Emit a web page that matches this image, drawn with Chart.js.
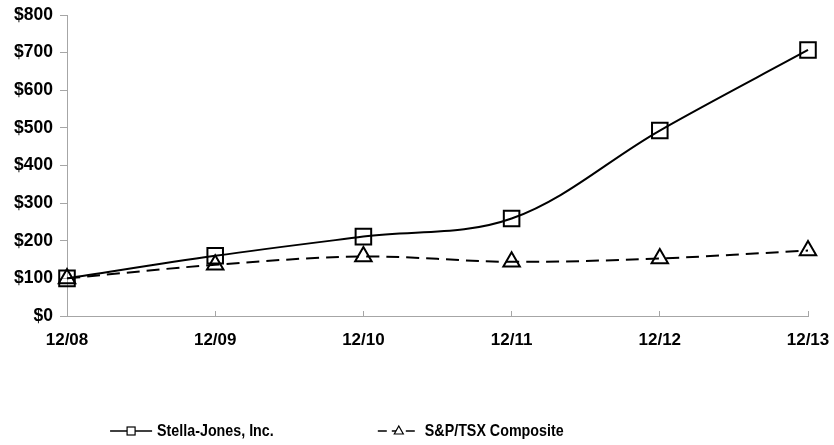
<!DOCTYPE html>
<html>
<head>
<meta charset="utf-8">
<script src="https://cdn.jsdelivr.net/npm/chart.js@4/dist/chart.umd.min.js"></script>
<style>
  html, body { margin: 0; padding: 0; background: #fff; }
  #wrap { width: 834px; height: 445px; }
</style>
</head>
<body>
<div id="wrap"><canvas id="c"></canvas></div>
<script>
const categories = ['12/08', '12/09', '12/10', '12/11', '12/12', '12/13'];
const stellaJones = [100, 160, 211, 259, 493, 707];
const spTsx = [100, 136, 158, 144, 153, 174];
const seriesLabels = ['Stella-Jones, Inc.', 'S&P/TSX Composite'];
const yTicks = [0, 100, 200, 300, 400, 500, 600, 700, 800];

const axisColor = '#a6a6a6';
const xTickFont = { family: "Arial, 'Liberation Sans', sans-serif", size: 17, weight: 'bold' };
const yTickFont = { family: "Arial, 'Liberation Sans', sans-serif", size: 17.5, weight: 'bold' };
const legendFont = "bold 17px Arial, 'Liberation Sans', sans-serif";
const legendStartFrac = [0.132, 0.453];

const legendPlugin = {
  id: 'lineMarkerLegend',
  afterDraw(chart) {
    const ctx = chart.ctx;
    const y = 431;
    chart.data.datasets.forEach((ds, i) => {
      const x0 = chart.width * legendStartFrac[i];
      const lineLen = 42;
      ctx.save();
      ctx.strokeStyle = '#000';
      ctx.lineWidth = 1.5;
      ctx.setLineDash(ds.borderDash ? [9, 5] : []);
      ctx.beginPath();
      ctx.moveTo(x0, y);
      ctx.lineTo(x0 + lineLen, y);
      ctx.stroke();
      ctx.setLineDash([]);
      ctx.fillStyle = '#fff';
      ctx.lineWidth = 1.2;
      const cx = x0 + lineLen / 2;
      if (ds.pointStyle === 'rect') {
        ctx.fillRect(cx - 4, y - 4, 8, 8);
        ctx.strokeRect(cx - 4, y - 4, 8, 8);
      } else {
        ctx.beginPath();
        ctx.moveTo(cx, y - 5);
        ctx.lineTo(cx + 4.5, y + 3);
        ctx.lineTo(cx - 4.5, y + 3);
        ctx.closePath();
        ctx.fill();
        ctx.stroke();
      }
      ctx.fillStyle = '#000';
      ctx.font = legendFont;
      ctx.textBaseline = 'middle';
      ctx.textAlign = 'left';
      ctx.translate(x0 + lineLen + 5, y);
      ctx.scale(0.84, 1);
      ctx.fillText(ds.label, 0, 0);
      ctx.restore();
    });
  }
};

new Chart(document.getElementById('c'), {
  type: 'line',
  data: {
    labels: categories,
    datasets: [
      {
        label: seriesLabels[0],
        data: stellaJones,
        borderColor: '#000',
        borderWidth: 2,
        tension: 0.35,
        pointStyle: 'rect',
        pointRadius: 11,
        pointBorderWidth: 2,
        pointBackgroundColor: 'rgba(255,255,255,0)',
        pointBorderColor: '#000'
      },
      {
        label: seriesLabels[1],
        data: spTsx,
        borderColor: '#000',
        borderWidth: 2,
        borderDash: [13, 7],
        tension: 0.35,
        pointStyle: 'triangle',
        pointRadius: 9.5,
        pointBorderWidth: 2,
        pointBackgroundColor: 'rgba(255,255,255,0)',
        pointBorderColor: '#000'
      }
    ]
  },
  options: {
    responsive: true,
    maintainAspectRatio: false,
    animation: false,
    devicePixelRatio: 1,
    layout: { padding: { left: 0, right: 26, top: 15, bottom: 89 } },
    plugins: {
      legend: { display: false },
      tooltip: { enabled: false }
    },
    scales: {
      x: {
        offset: false,
        border: { display: true, color: axisColor, width: 1 },
        grid: { display: true, drawOnChartArea: false, drawTicks: true, tickLength: -5, color: axisColor },
        ticks: { color: '#000', font: xTickFont, padding: 19, maxRotation: 0, autoSkip: false },
        afterFit(scale) {
          scale.height = 40;
          scale.paddingLeft = 0;
          scale.paddingRight = 0;
        }
      },
      y: {
        min: 0,
        max: 800,
        border: { display: true, color: axisColor, width: 1 },
        grid: { display: true, drawOnChartArea: false, drawTicks: true, tickLength: 7, color: axisColor },
        afterBuildTicks(scale) { scale.ticks = yTicks.map(v => ({ value: v })); },
        ticks: {
          color: '#000',
          font: yTickFont,
          padding: 7,
          callback: v => '$' + v
        },
        afterFit(scale) {
          scale.width = 67;
          scale.paddingTop = 0;
          scale.paddingBottom = 0;
        }
      }
    }
  },
  plugins: [legendPlugin]
});
</script>
</body>
</html>
